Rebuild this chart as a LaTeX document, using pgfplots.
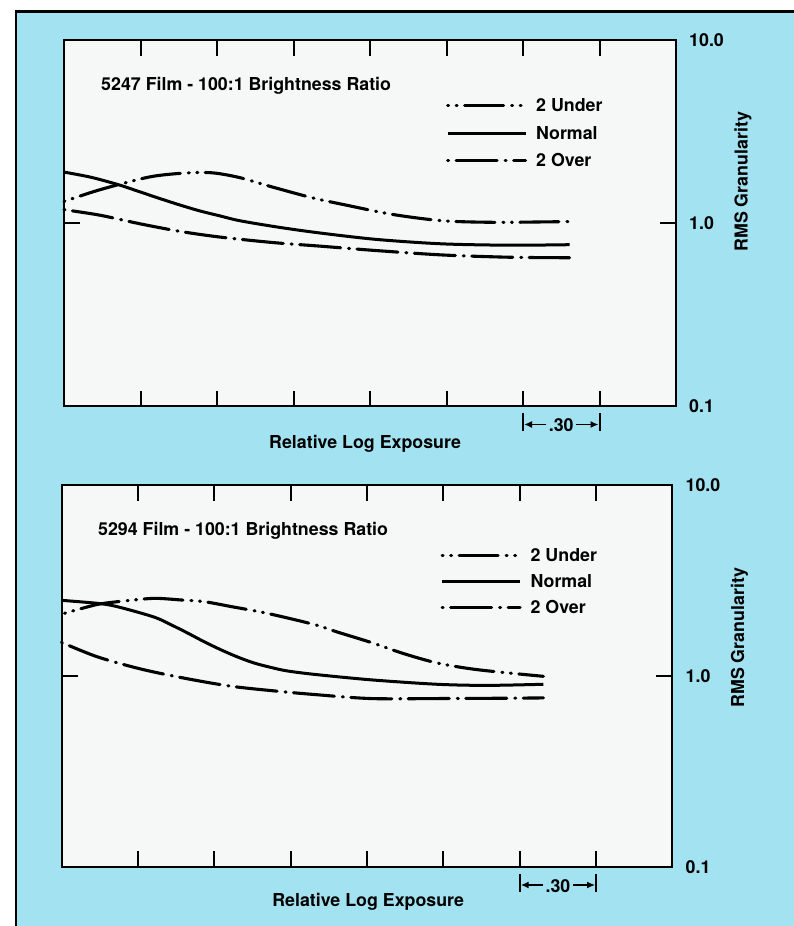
\documentclass[border=0pt]{standalone}
\usepackage{pgfplots}
\pgfplotsset{compat=1.18}
\usepackage{fontspec}
\setmainfont{TeX Gyre Heros}
\usetikzlibrary{arrows.meta}

\definecolor{panel}{RGB}{162,226,241}
\definecolor{plotbg}{RGB}{246,247,247}
\newcommand\lab{\bfseries\fontsize{17.8bp}{21bp}\selectfont}

\tikzset{
  lineunder/.style={black, line width=3.1bp, line cap=round,
    dash pattern=on 1bp off 7.5bp on 1bp off 7.5bp on 39bp off 8bp},
  linenormal/.style={black, line width=3bp},
  lineover/.style={black, line width=3.1bp, line cap=round,
    dash pattern=on 1bp off 7.5bp on 41bp off 8bp},
}

% interval marker for 0.30 log exposure, drawn under the x axis
\newcommand\interval{%
  \draw[line width=2bp] ([yshift=-7bp]axis cs:6,0.1) -- ([yshift=-25bp]axis cs:6,0.1);
  \draw[line width=2bp] ([yshift=-7bp]axis cs:7,0.1) -- ([yshift=-25bp]axis cs:7,0.1);
  \draw[line width=1.8bp, -{Latex[length=8bp,width=7bp]}]
    ([xshift=-15bp,yshift=-18bp]axis cs:6.5,0.1) -- ([xshift=1bp,yshift=-18bp]axis cs:6,0.1);
  \draw[line width=1.8bp, -{Latex[length=8bp,width=7bp]}]
    ([xshift=15bp,yshift=-18bp]axis cs:6.5,0.1) -- ([xshift=-1bp,yshift=-18bp]axis cs:7,0.1);
  \node[font=\lab, inner sep=0pt] at ([yshift=-19bp]axis cs:6.5,0.1) {.30};
}

\begin{document}
\begin{tikzpicture}
\useasboundingbox (0,0) rectangle (794bp,926bp);
\fill[white] (0,0) rectangle (794bp,926bp);
\fill[panel] (16bp,0) rectangle (794bp,914.5bp);
\draw[line width=2.5bp] (16bp,0) -- (16bp,914.5bp) -- (794bp,914.5bp);

% 5247 film
\begin{axis}[
  at={(64bp,519.5bp)}, anchor=south west,
  scale only axis, width=612bp, height=366bp,
  xmin=0, xmax=8,
  ymode=log, ymin=0.1, ymax=10,
  xtick={1,2,3,4,5,6,7}, xticklabels={},
  ytick={0.1,1,10}, yticklabels={0.1,1.0,10.0},
  yminorticks=false,
  tick align=inside, major tick length=16bp,
  xtick pos=both, ytick pos=both, yticklabel pos=right,
  yticklabel style={anchor=west, inner sep=0pt, xshift=13bp, font=\lab},
  tick style={line width=2bp, black},
  axis line style={line width=2bp},
  axis background/.style={fill=plotbg},
  clip=false,
  label style={font=\lab},
  xlabel={Relative Log Exposure},
  xlabel style={at={(rel axis cs:0.492,0)}, anchor=base, yshift=-42bp},
  ylabel={RMS Granularity},
  ylabel style={at={(rel axis cs:1.1095,0.614)}, anchor=center},
  legend cell align=left,
  legend image code/.code={\draw[#1] (0bp,0bp) -- (78bp,0bp);},
  legend style={at={(rel axis cs:0.624,0.840)}, anchor=north west,
    draw=none, fill=none, font=\lab, row sep=14.9bp, column sep=9bp,
    inner sep=0pt, nodes={inner sep=0pt, text height=12.6bp, text depth=0pt}},
]
\addplot[lineunder, smooth] coordinates {
  (0,1.32) (0.38,1.49) (0.71,1.63) (1.16,1.81) (1.61,1.89) (1.95,1.89)
  (2.30,1.78) (2.73,1.58) (3.25,1.38) (3.65,1.27) (4.30,1.12) (4.95,1.035)
  (5.61,1.015) (6.26,1.02) (6.61,1.025)};
\addlegendentry{2 Under}
\addplot[linenormal, smooth] coordinates {
  (0,1.91) (0.35,1.79) (0.71,1.63) (0.99,1.49) (1.25,1.37) (1.52,1.26)
  (1.78,1.17) (2.04,1.10) (2.30,1.035) (2.82,0.952) (3.35,0.887) (4.09,0.818)
  (4.95,0.774) (5.83,0.761) (6.61,0.766)};
\addlegendentry{Normal}
\addplot[lineover, smooth] coordinates {
  (0,1.19) (0.47,1.11) (0.99,0.997) (1.52,0.905) (2.04,0.843) (2.73,0.787)
  (3.35,0.752) (4.09,0.711) (4.95,0.673) (5.83,0.654) (6.61,0.65)};
\addlegendentry{2 Over}
\node[anchor=base west, font=\lab, inner sep=0pt] at (rel axis cs:0.0605,0.863)
  {5247 Film - 100:1 Brightness Ratio};
\interval
\end{axis}

% 5294 film
\begin{axis}[
  at={(61.5bp,59bp)}, anchor=south west,
  scale only axis, width=611bp, height=382bp,
  xmin=0, xmax=8,
  ymode=log, ymin=0.1, ymax=10,
  xtick={1,2,3,4,5,6,7}, xticklabels={},
  ytick={0.1,1,10}, yticklabels={0.1,1.0,10.0},
  yminorticks=false,
  tick align=inside, major tick length=16bp,
  xtick pos=both, ytick pos=both, yticklabel pos=right,
  yticklabel style={anchor=west, inner sep=0pt, xshift=13bp, font=\lab},
  tick style={line width=2bp, black},
  axis line style={line width=2bp},
  axis background/.style={fill=plotbg},
  clip=false,
  label style={font=\lab},
  xlabel={Relative Log Exposure},
  xlabel style={at={(rel axis cs:0.502,0)}, anchor=base, yshift=-39.5bp},
  ylabel={RMS Granularity},
  ylabel style={at={(rel axis cs:1.1095,0.60)}, anchor=center},
  legend cell align=left,
  legend image code/.code={\draw[#1] (0bp,0bp) -- (78bp,0bp);},
  legend style={at={(rel axis cs:0.620,0.832)}, anchor=north west,
    draw=none, fill=none, font=\lab, row sep=13.4bp, column sep=9bp,
    inner sep=0pt, nodes={inner sep=0pt, text height=12.6bp, text depth=0pt}},
]
\addplot[lineunder, smooth] coordinates {
  (0.04,2.13) (0.34,2.30) (0.52,2.39) (0.86,2.48) (1.22,2.55) (1.57,2.50)
  (1.87,2.45) (2.22,2.31) (2.69,2.13) (3.31,1.86) (3.61,1.70) (4.05,1.50)
  (4.48,1.31) (4.92,1.17) (5.44,1.08) (6.31,0.996)};
\addlegendentry{2 Under}
\addplot[linenormal, smooth] coordinates {
  (0,2.49) (0.52,2.39) (0.78,2.28) (1.22,2.03) (1.44,1.85) (1.65,1.68)
  (1.87,1.51) (2.09,1.37) (2.30,1.26) (2.52,1.17) (2.75,1.107) (2.95,1.064)
  (3.31,1.02) (4.05,0.955) (4.92,0.905) (5.57,0.893) (6.31,0.905)};
\addlegendentry{Normal}
\addplot[lineover, smooth] coordinates {
  (0,1.50) (0.47,1.26) (1.05,1.085) (1.65,0.967) (2.22,0.884) (2.78,0.836)
  (3.31,0.80) (4.05,0.762) (4.92,0.762) (5.79,0.765) (6.31,0.768)};
\addlegendentry{2 Over}
\node[anchor=base west, font=\lab, inner sep=0pt] at (rel axis cs:0.0597,0.8665)
  {5294 Film - 100:1 Brightness Ratio};
\interval
\end{axis}
\end{tikzpicture}
\end{document}
